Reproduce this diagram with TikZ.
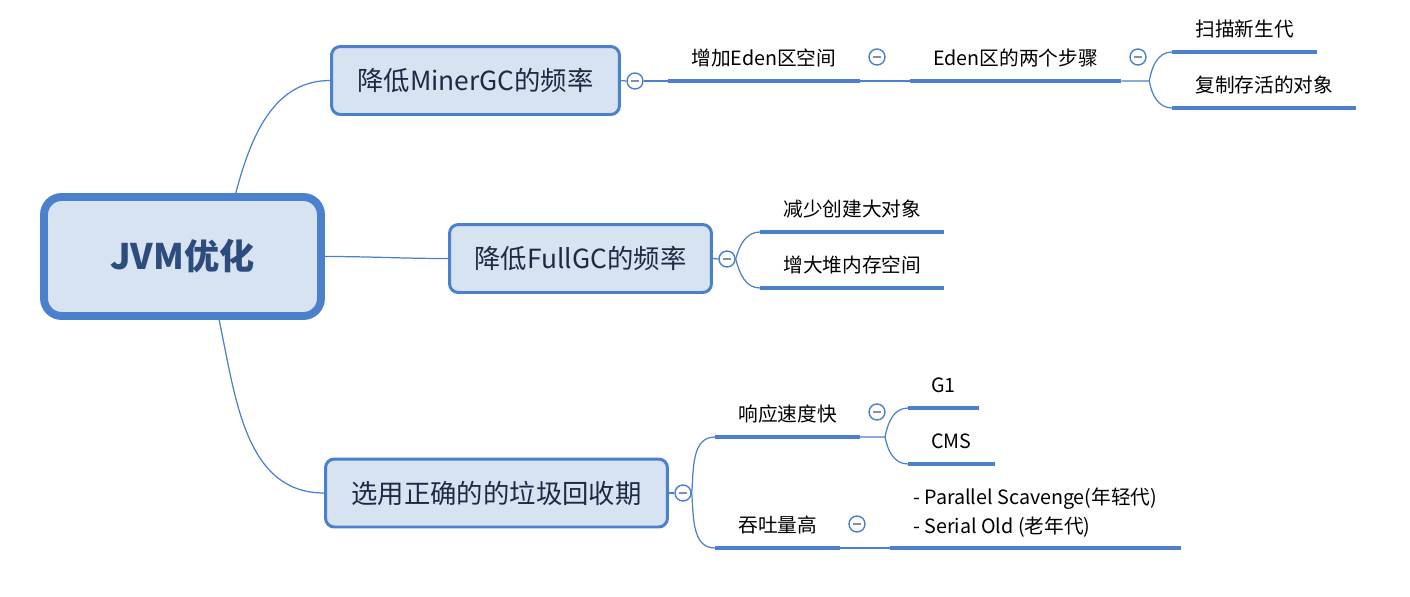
\documentclass[tikz,border=0pt]{standalone}
\usepackage{fontspec}
\setmainfont{Noto Sans CJK SC}

\definecolor{mapblue}{RGB}{74,128,204}
\definecolor{mapfill}{RGB}{215,227,241}
\definecolor{roottext}{RGB}{44,76,126}
\definecolor{boxtext}{RGB}{30,42,68}
\definecolor{foldminus}{RGB}{130,144,176}

\tikzset{
	root/.style={draw=mapblue, fill=mapfill, line width=4.5pt, rounded corners=10pt,
		minimum width=5.54cm, minimum height=2.38cm, text=roottext,
		font=\fontsize{20pt}{24pt}\selectfont\bfseries},
	topic/.style={draw=mapblue, fill=mapfill, line width=1.7pt, rounded corners=5pt,
		minimum height=1.36cm, text=boxtext, font=\fontsize{15pt}{18pt}\selectfont},
	sub/.style={anchor=south west, inner xsep=0.46cm, inner ysep=6pt, text depth=0.25em,
		align=left, font=\fontsize{11.2pt}{16.5pt}\selectfont},
	fold/.style={circle, draw=mapblue, fill=white, line width=0.8pt, minimum size=0.32cm, inner sep=0pt,
		path picture={\draw[foldminus, line width=0.9pt]
			([xshift=-2.3pt]path picture bounding box.center) -- ([xshift=2.3pt]path picture bounding box.center);}},
	link/.style={draw=mapblue, line width=0.7pt},
	uline/.style={draw=mapblue, line width=2.3pt}
}

\begin{document}
\begin{tikzpicture}[x=0.02cm, y=0.02cm]
	\useasboundingbox (0,0) rectangle (1410,-596);

	\node[root] (jvm) at (182.5,-256.5) {JVM优化};
	\node[topic, minimum width=5.76cm] (minor) at (475.5,-80.5) {降低MinerGC的频率};
	\node[topic, minimum width=5.24cm] (full) at (580.5,-258.5) {降低FullGC的频率};
	\node[topic, minimum width=6.84cm] (gc) at (496.5,-493) {选用正确的的垃圾回收期};

	\node[sub] (eden) at (668,-81) {增加Eden区空间};
	\node[sub] (steps) at (910,-81) {Eden区的两个步骤};
	\node[sub] (scan) at (1172,-52) {扫描新生代};
	\node[sub] (copy) at (1172,-108) {复制存活的对象};
	\node[sub] (less) at (760,-232) {减少创建大对象};
	\node[sub] (heap) at (760,-288) {增大堆内存空间};
	\node[sub] (fast) at (715,-437) {响应速度快};
	\node[sub] (gone) at (908,-408) {G1};
	\node[sub] (cms) at (908,-464) {CMS};
	\node[sub] (thru) at (715,-548) {吞吐量高};
	\node[sub, text depth={}] (pair) at (890,-548) {- Parallel Scavenge(年轻代)\\- Serial Old (老年代)};

	\foreach \n in {eden,steps,scan,copy,less,heap,fast,gone,cms,thru,pair}
		\draw[uline] (\n.south west) -- (\n.south east);

	\draw[link] (jvm.50) to[out=75, in=180] (minor.west);
	\draw[link] (jvm.east) to[out=0, in=180] (full.west);
	\draw[link] (jvm.-60) to[out=-78, in=180] (gc.west);

	\node[fold] (minorfold) at (635,-81) {};
	\node[fold] (edenfold) at (877,-57) {};
	\node[fold] (stepsfold) at (1138,-57) {};
	\node[fold] (fullfold) at (727,-259) {};
	\node[fold] (gcfold) at (683,-493) {};
	\node[fold] (fastfold) at (877,-412) {};
	\node[fold] (thrufold) at (857,-524) {};

	\draw[link] (minor.east) -- (minorfold.west);
	\draw[link] (minorfold.east) -- (eden.south west);
	\draw[link] (eden.south east) -- (steps.south west);
	\draw[link] (steps.south east) -- ++(28,0) coordinate (stepsfork) to[out=80, in=180] (scan.south west);
	\draw[link] (stepsfork) to[out=-80, in=180] (copy.south west);

	\draw[link] (full.east) -- (fullfold.west);
	\draw[link] (fullfold.east) to[out=75, in=180] (less.south west);
	\draw[link] (fullfold.east) to[out=-75, in=180] (heap.south west);

	\draw[link] (gc.east) -- (gcfold.west);
	\draw[link] (gcfold.east) to[out=85, in=180] (fast.south west);
	\draw[link] (gcfold.east) to[out=-85, in=180] (thru.south west);
	\draw[link] (fast.south east) -- ++(25,0) coordinate (fastfork) to[out=80, in=180] (gone.south west);
	\draw[link] (fastfork) to[out=-80, in=180] (cms.south west);
	\draw[link] (thru.south east) -- (pair.south west);
\end{tikzpicture}
\end{document}
